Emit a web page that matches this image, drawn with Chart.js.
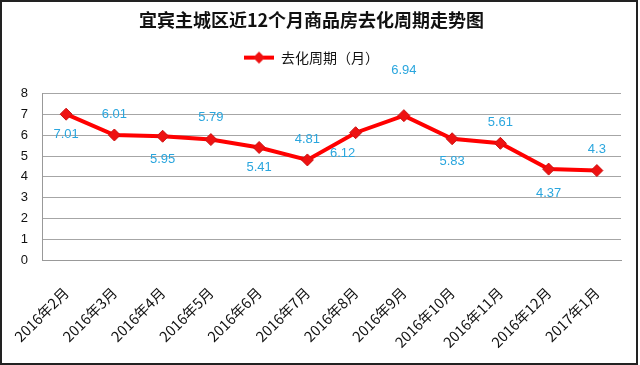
<!DOCTYPE html>
<html lang="zh">
<head>
  <meta charset="UTF-8" />
  <title>宜宾主城区去化周期</title>
  <script src="https://cdn.jsdelivr.net/npm/chart.js"></script>
  <style>
    body {
      margin: 0;
      background: #fff;
    }
    .frame {
      box-sizing: border-box;
      width: 638px;
      height: 365px;
      border: 2px solid #222;
      background: white;
    }
    canvas {
      display: block;
    }
  </style>
</head>
<body>
  <div class="frame">
    <canvas id="lineChart" width="634" height="361"></canvas>
  </div>

  <script>
    const months = ['2016年2月', '2016年3月', '2016年4月', '2016年5月', '2016年6月', '2016年7月',
                    '2016年8月', '2016年9月', '2016年10月', '2016年11月', '2016年12月', '2017年1月'];
    const cycle = [7.01, 6.01, 5.95, 5.79, 5.41, 4.81, 6.12, 6.94, 5.83, 5.61, 4.37, 4.3];
    const yTicks = [0, 1, 2, 3, 4, 5, 6, 7, 8];

    // where each value label sits relative to its point
    const labelDx = [0, 0, 0, 0, 0, 0, -13, 0, 0, 0, 0, 0];
    const labelDy = [20, -21, 23, -22, 20, -21, 21, -45, 23, -21, 24, -21];

    const cnFont = '"Noto Sans CJK SC", "Noto Sans", sans-serif';

    // little red line + diamond for the legend
    const legendIcon = document.createElement('canvas');
    legendIcon.width = 30;
    legendIcon.height = 14;
    (function () {
      const c = legendIcon.getContext('2d');
      c.strokeStyle = '#ff0000';
      c.lineWidth = 4;
      c.beginPath();
      c.moveTo(0, 7);
      c.lineTo(30, 7);
      c.stroke();
      c.fillStyle = '#ee1111';
      c.beginPath();
      c.moveTo(15, 1);
      c.lineTo(21, 7);
      c.lineTo(15, 13);
      c.lineTo(9, 7);
      c.closePath();
      c.fill();
    })();

    // extra room below the legend before the plot starts
    const legendGap = {
      id: 'legendGap',
      beforeInit(chart) {
        const legend = chart.legend;
        const fit = legend.fit;
        legend.fit = function () {
          fit.call(this);
          this.height += 19;
        };
      }
    };

    const valueLabels = {
      id: 'valueLabels',
      afterDatasetsDraw(chart) {
        const { ctx } = chart;
        const meta = chart.getDatasetMeta(0);
        ctx.save();
        ctx.font = '13px "Liberation Sans", Arial, sans-serif';
        ctx.fillStyle = '#2aa6de';
        ctx.textAlign = 'center';
        ctx.textBaseline = 'middle';
        meta.data.forEach((pt, i) => {
          ctx.fillText(String(cycle[i]), pt.x + labelDx[i], pt.y + labelDy[i]);
        });
        ctx.restore();
      }
    };

    const ctx = document.getElementById('lineChart').getContext('2d');
    new Chart(ctx, {
      type: 'line',
      data: {
        labels: months,
        datasets: [{
          label: '去化周期（月）',
          data: cycle,
          borderColor: '#ff0000',
          borderWidth: 4,
          pointStyle: 'rectRot',
          pointRadius: 6,
          pointBackgroundColor: '#ee1111',
          pointBorderColor: '#cc1111',
          pointBorderWidth: 1,
          tension: 0
        }]
      },
      options: {
        responsive: false,
        animation: false,
        layout: {
          padding: { left: 0, right: 15, top: 0, bottom: 0 }
        },
        plugins: {
          title: {
            display: true,
            text: '宜宾主城区近12个月商品房去化周期走势图',
            color: '#111',
            font: { family: cnFont, size: 18, weight: 'bold' },
            padding: { top: 7, bottom: 10 }
          },
          legend: {
            display: true,
            labels: {
              color: '#111',
              font: { family: cnFont, size: 14 },
              usePointStyle: true,
              pointStyleWidth: 30,
              padding: 10,
              generateLabels: chart => [{
                text: chart.data.datasets[0].label,
                pointStyle: legendIcon,
                fillStyle: '#ff0000',
                strokeStyle: '#ff0000',
                lineWidth: 0,
                fontColor: '#111',
                datasetIndex: 0
              }]
            }
          },
          tooltip: { enabled: false }
        },
        scales: {
          x: {
            offset: true,
            grid: { display: false, drawTicks: false },
            border: { color: '#999', width: 1 },
            ticks: {
              color: '#111',
              font: { family: cnFont, size: 14.5 },
              minRotation: 45,
              maxRotation: 45,
              padding: 24,
              autoSkip: false
            },
            afterFit(scale) {
              scale.height = 103;
              scale.paddingLeft = 0;
              scale.paddingRight = 0;
            }
          },
          y: {
            min: 0,
            max: 8,
            afterBuildTicks(scale) {
              scale.ticks = yTicks.map(v => ({ value: v }));
            },
            grid: { color: '#a6a6a6', lineWidth: 1, drawTicks: false },
            border: { color: '#999', width: 1 },
            ticks: {
              color: '#111',
              font: { family: '"Liberation Sans", Arial, sans-serif', size: 13 },
              padding: 14
            },
            afterFit(scale) {
              scale.width = 40;
            }
          }
        }
      },
      plugins: [legendGap, valueLabels]
    });
  </script>
</body>
</html>
